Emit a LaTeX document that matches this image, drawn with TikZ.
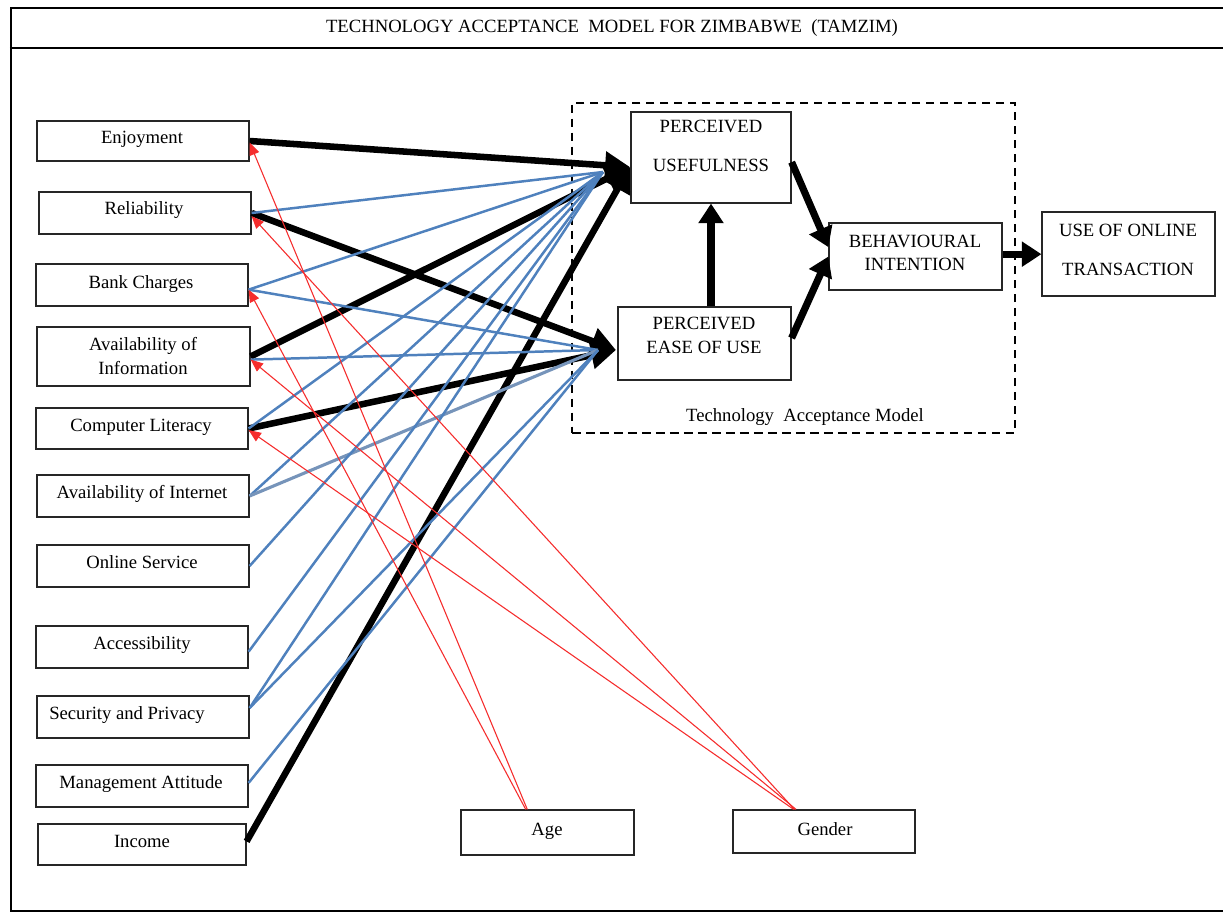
\documentclass[tikz,border=0pt]{standalone}
\usepackage{fontspec}
\setmainfont{Liberation Serif}
\usetikzlibrary{arrows.meta,fit,calc}
\definecolor{lblue}{RGB}{79,129,189}
\definecolor{gblue}{RGB}{118,148,186}
\definecolor{lred}{RGB}{245,45,45}
\begin{document}
\begin{tikzpicture}[x=0.643pt,y=-0.643pt,
  box/.style={draw=black!85, line width=0.8pt, inner sep=0pt},
  txt/.style={anchor=base, inner sep=0pt, font=\fontsize{12}{14}\selectfont},
  heavy/.style={line width=4.2pt, -{Triangle[length=16pt,width=17pt]}},
  tam/.style={line width=4.6pt, -{Triangle[length=12.5pt,width=15.5pt]}},
  blueln/.style={lblue, line width=1.6pt},
  redln/.style={lred, line width=0.7pt, -{Triangle[length=8pt,width=6.5pt]}},
  tambox/.style={draw, line width=1.9pt, dash pattern=on 5.5pt off 3.5pt, inner sep=0pt}
]
\useasboundingbox (0,0) rectangle (1223,913);
% outer frame
\node[draw, line width=1.3pt, inner sep=0pt, fit={(11,8) (1245,911)}] (frame) {};
\draw[line width=1.3pt] (frame.west |- 0,48) -- (frame.east |- 0,48);
\node[txt] (title) at (612,33) {TECHNOLOGY ACCEPTANCE\ \ MODEL FOR ZIMBABWE\ \ (TAMZIM)};

% left boxes
\node[box, fit={(37,121) (249,161)}] (enj) {};
\node[box, fit={(39,192) (251,234)}] (rel) {};
\node[box, fit={(36,264) (248,306)}] (bank) {};
\node[box, fit={(37,327) (250,386)}] (info) {};
\node[box, fit={(36,408) (248,449)}] (comp) {};
\node[box, fit={(37,475) (249,517)}] (inet) {};
\node[box, fit={(37,545) (249,587)}] (online) {};
\node[box, fit={(36,626) (248,668)}] (access) {};
\node[box, fit={(37,696) (249,738)}] (sec) {};
\node[box, fit={(36,765) (248,807)}] (mgmt) {};
\node[box, fit={(38,824) (246,865)}] (income) {};
\node[box, fit={(461,810) (634,855)}] (age) {};
\node[box, fit={(733,810) (915,853)}] (gender) {};

\node[txt] (enjT) at (142,144) {Enjoyment};
\node[txt] (relT) at (144,215) {Reliability};
\node[txt] (bankT) at (141,288) {Bank Charges};
\node[txt] (infoT1) at (143,350) {Availability of};
\node[txt] (infoT2) at (143,374) {Information};
\node[txt] (compT) at (141,431) {Computer Literacy};
\node[txt] (inetT) at (142,498) {Availability of Internet};
\node[txt] (onlineT) at (142,568) {Online Service};
\node[txt] (accessT) at (142,649) {Accessibility};
\node[txt] (secT) at (127,719) {Security and Privacy};
\node[txt] (mgmtT) at (141,788) {Management Attitude};
\node[txt] (incomeT) at (142,847) {Income};
\node[txt] (ageT) at (547,835) {Age};
\node[txt] (genderT) at (825,835) {Gender};

% TAM
\node[tambox, fit={(572,103) (1015,433)}] (tamb) {};
\node[txt] (tamT) at (805,421) {Technology\ \ Acceptance Model};
\node[box, fit={(631,112) (791,203)}] (pu) {};
\node[box, fit={(618,307) (791,380)}] (peou) {};
\node[box, fit={(829,223) (1002,290)}] (bi) {};
\node[box, fit={(1042,212) (1215,296)}] (use) {};
\node[txt] (puT1) at (711,133) {PERCEIVED};
\node[txt] (puT2) at (711,172) {USEFULNESS};
\node[txt] (peouT1) at (704,329) {PERCEIVED};
\node[txt] (peouT2) at (704,353) {EASE OF USE};
\node[txt] (biT1) at (915,247) {BEHAVIOURAL};
\node[txt] (biT2) at (915,270) {INTENTION};
\node[txt] (useT1) at (1128,236) {USE OF ONLINE};
\node[txt] (useT2) at (1128,275) {TRANSACTION};

\coordinate (puTip) at (630,167);
\coordinate (peouTip) at (616,350);
\coordinate (puB) at (603,172);
\coordinate (peouB) at (598,350);

% black heavy arrows
\draw[heavy] (enj.east) -- (puTip);
\draw[heavy] (info.east) -- (puTip);
\draw[heavy] ([yshift=2pt]income.east) -- (puTip);
\draw[heavy] (rel.east) -- (peouTip);
\draw[heavy] (comp.east) -- (peouTip);

% blue lines
\draw[blueln] (rel.east) -- (puB);
\draw[blueln] ([yshift=-3pt]bank.east) -- (puB);
\draw[blueln] ([yshift=-3pt]bank.east) -- (peouB);
\draw[blueln] ([yshift=-2pt]info.east) -- (peouB);
\draw[blueln] (comp.east) -- (puB);
\draw[blueln] (inet.east) -- (puB);
\draw[gblue, line width=2pt] (inet.east) -- (peouB);
\draw[blueln] (online.east) -- (puB);
\draw[blueln] ([yshift=-3pt]access.east) -- (puB);
\draw[blueln] ([yshift=5.8pt]sec.east) -- (puB);
\draw[blueln] ([yshift=5.8pt]sec.east) -- (peouB);
\draw[blueln] ([yshift=2pt]mgmt.east) -- (peouB);

% red moderators
\draw[redln] ([xshift=-13pt]age.north) -- ([yshift=-1pt]enj.east);
\draw[redln] ([xshift=-14pt]age.north) -- ([yshift=-3pt]bank.east);
\draw[redln] ([xshift=-19pt]gender.north) -- ([yshift=-2pt]rel.east);
\draw[redln] ([xshift=-18pt]gender.north) -- ([yshift=-2pt]info.east);
\draw[redln] ([xshift=-19.5pt]gender.north) -- ([yshift=-1pt]comp.east);

% TAM arrows
\draw[tam] (pu.south |- peou.north) -- (pu.south);
\draw[tam] ([yshift=-3pt]pu.east) -- ([yshift=6pt]bi.west);
\draw[tam] ([yshift=3.5pt]peou.east) -- ([yshift=0pt]bi.west);
\draw[tam] ([yshift=1.5pt]bi.east) -- ([yshift=1.5pt]bi.east -| use.west);
\end{tikzpicture}
\end{document}
